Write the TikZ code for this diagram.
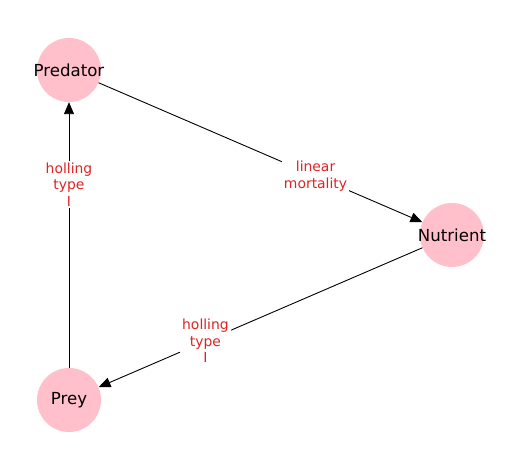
\documentclass[tikz,border=0pt]{standalone}
\usepackage{fontspec}
\setmainfont{DejaVu Sans}
\usepackage{tikz}
\usetikzlibrary{arrows.meta, positioning}
\definecolor{NodePink}{HTML}{FFC0CB}
\definecolor{LabelRed}{HTML}{DD2424}
\newcommand{\spname}[1]{\makebox[0pt]{#1}}

\begin{document}
\begin{tikzpicture}[
			x=1pt, y=1pt,
			species/.style={circle, fill=NodePink, minimum size=64pt, inner sep=0pt, font=\fontsize{16.6}{19}\selectfont},
			arrow/.style={-{Triangle[length=12pt, width=10pt]}, line width=0.9pt},
			rate/.style={fill=white, text=LabelRed, align=center, inner sep=2pt, font=\fontsize{13.9}{16.5}\selectfont, pos=0.67}
			]
			\useasboundingbox (0,0) rectangle (521,470);
			% Nodes
			\node (predator) [species] at (69,400) {\spname{Predator}};
			\node (nutrient) [species] at (452,235) {\spname{Nutrient}};
			\node (prey) [species] at (69,70) {\spname{Prey}};
			
			% Arrows
			\draw[arrow] (predator) -- node[rate] {linear\\mortality} (nutrient);
			\draw[arrow] (nutrient) -- node[rate] {holling\\type\\I} (prey);
			\draw[arrow] (prey) -- node[rate, pos=0.69] {holling\\type\\I} (predator);
		\end{tikzpicture}
\end{document}
